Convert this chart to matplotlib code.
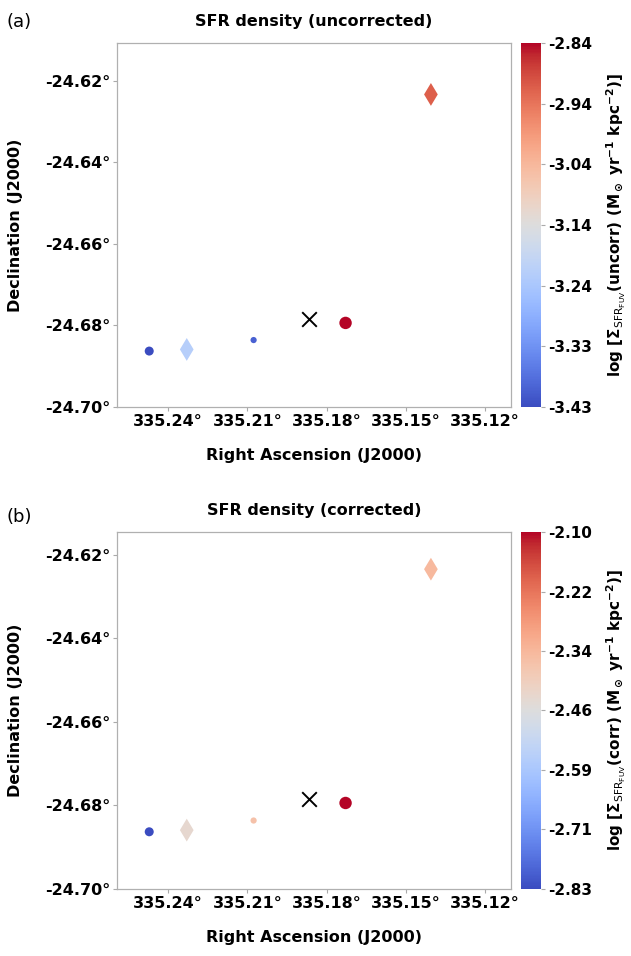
import matplotlib
matplotlib.use("Agg")
import matplotlib.pyplot as plt
import numpy as np
from matplotlib.colors import Normalize
from matplotlib.cm import ScalarMappable
from matplotlib.ticker import FormatStrFormatter

# star-forming regions (RA, Dec in degrees)
RA = [335.2471, 335.2329, 335.2076, 335.1728, 335.1405]
DEC = [-24.6863, -24.6859, -24.6836, -24.6794, -24.6234]
MARKERS = ["o", "d", "o", "o", "d"]
SIZES = [42, 135, 20, 80, 135]

LOG_SFR_UNCORR = [-3.433, -3.215, -3.405, -2.843, -2.915]
LOG_SFR_CORR = [-2.830, -2.435, -2.365, -2.097, -2.345]

# galaxy centre
CEN_RA = 335.1865
CEN_DEC = -24.6785

XTICKS = [335.24, 335.21, 335.18, 335.15, 335.12]
YTICKS = [-24.62, -24.64, -24.66, -24.68, -24.70]

PANELS = [
    ("(a)", "SFR density (uncorrected)", LOG_SFR_UNCORR, "uncorr", 0.5743, 0.3807, (-24.70, -24.6108), 0.977),
    ("(b)", "SFR density (corrected)", LOG_SFR_CORR, "corr", 0.0701, 0.3734, (-24.70, -24.6145), 0.459),
]

plt.rcParams["font.family"] = "DejaVu Sans"
plt.rcParams["mathtext.default"] = "bf"

fig = plt.figure(figsize=(6.31, 9.56), dpi=100)

for tag, title, vals, kind, bottom, height, ylim, tag_y in PANELS:
    ax = fig.add_axes([0.1854, bottom, 0.6244, height])
    cax = fig.add_axes([0.8257, bottom, 0.0317, height])
    vmin, vmax = min(vals), max(vals)
    norm = Normalize(vmin=vmin, vmax=vmax)
    cmap = plt.get_cmap("coolwarm")

    for x, y, m, s, v in zip(RA, DEC, MARKERS, SIZES, vals):
        ax.scatter(x, y, marker=m, s=s, color=cmap(norm(v)), edgecolors="none", zorder=3)
    ax.scatter(CEN_RA, CEN_DEC, marker="x", s=110, color="black", linewidths=1.4, zorder=3)

    ax.set_xlim(335.2593, 335.1102)
    ax.set_ylim(*ylim)
    ax.set_xticks(XTICKS)
    ax.set_yticks(YTICKS)
    ax.xaxis.set_major_formatter(FormatStrFormatter("%.2f°"))
    ax.yaxis.set_major_formatter(FormatStrFormatter("%.2f°"))
    ax.tick_params(length=3, width=0.8, color="#aaaaaa", labelsize=11.5, pad=2)
    for lab in ax.get_xticklabels() + ax.get_yticklabels():
        lab.set_fontweight("bold")
    for sp in ax.spines.values():
        sp.set_color("#b0b0b0")
        sp.set_linewidth(0.9)

    ax.set_xlabel("Right Ascension (J2000)", fontsize=11.5, fontweight="bold", labelpad=14)
    ax.set_ylabel("Declination (J2000)", fontsize=11.5, fontweight="bold", labelpad=16)
    ax.set_title(title, fontsize=11.5, fontweight="bold", pad=12)
    fig.text(0.01, tag_y, tag, fontsize=13, va="center", ha="left")

    sm = ScalarMappable(norm=norm, cmap=cmap)
    cb = fig.colorbar(sm, cax=cax, ticks=np.linspace(vmin, vmax, 7), format="%.2f")
    cb.outline.set_visible(False)
    cb.ax.tick_params(length=3, width=0.8, color="#aaaaaa", labelsize=11, pad=2)
    for lab in cb.ax.get_yticklabels():
        lab.set_fontweight("bold")
    cb.set_label(r"log [$\Sigma_{\mathrm{SFR_{FUV}}}$(" + kind + r") (M$_\odot$ yr$^{-1}$ kpc$^{-2}$)]",
                 fontsize=11, fontweight="bold", labelpad=9)

fig.savefig("out.png", dpi=100)
